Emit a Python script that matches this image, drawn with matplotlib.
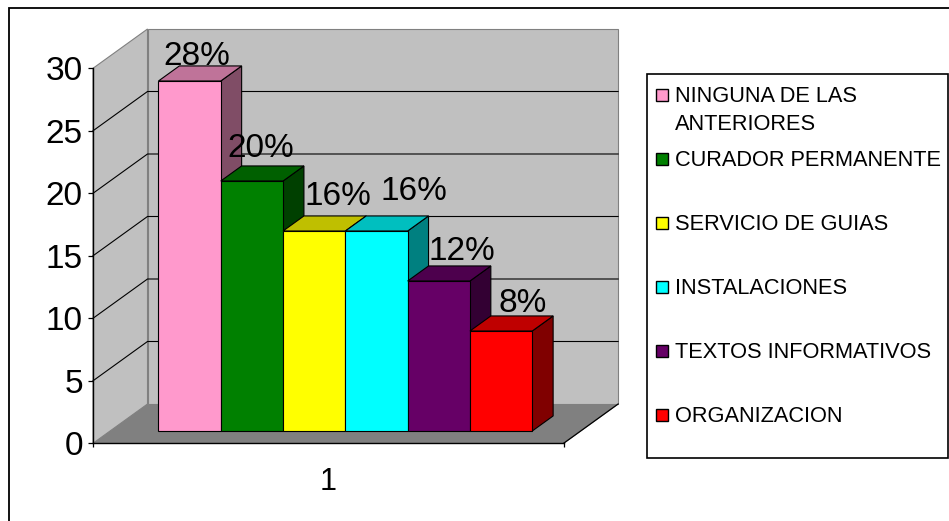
import matplotlib
matplotlib.use("Agg")
import matplotlib.pyplot as plt
from matplotlib.patches import Polygon, Rectangle

plt.rcParams['font.family'] = ['Liberation Sans', 'DejaVu Sans']

# ---- data -------------------------------------------------------------
categories = ["NINGUNA DE LAS\nANTERIORES", "CURADOR PERMANENTE",
              "SERVICIO DE GUIAS", "INSTALACIONES",
              "TEXTOS INFORMATIVOS", "ORGANIZACION"]
values = [28, 20, 16, 16, 12, 8]
value_labels = ["28%", "20%", "16%", "16%", "12%", "8%"]
y_ticks = [0, 5, 10, 15, 20, 25, 30]
x_category = "1"

# ---- styles -----------------------------------------------------------
front_colors = ["#FF99CC", "#008000", "#FFFF00", "#00FFFF", "#660066", "#FF0000"]


def shade(hex_color, k):
    r, g, b = (int(hex_color[i:i + 2], 16) for i in (1, 3, 5))
    return (r * k / 255, g * k / 255, b * k / 255)


W, H = 949, 521
fig = plt.figure(figsize=(W / 100, H / 100), dpi=100)

# front plane of the 3-D box (pixel layout of the plot area)
left_px, right_px, y0_px, y30_px = 93.0, 563.6, 443.3, 68.3
ax = fig.add_axes([left_px / W, (H - y0_px) / H,
                   (right_px - left_px) / W, (y0_px - y30_px) / H])
ax.set_xlim(0.5, 1.5)
ax.set_ylim(0, 30)
ax.patch.set_visible(False)

# oblique depth offset, converted to data units
DX_PX, DY_PX = 54.5, 39.3
ddx = DX_PX / (right_px - left_px)
ddy = DY_PX / (y0_px - y30_px) * 30


def P(x, v, d):
    """Point at category position x, value v and depth d (0 front, 1 back)."""
    return (x + d * ddx, v + d * ddy)


def face(pts, fc, ec, lw=0.8, z=1.0):
    ax.add_patch(Polygon(pts, closed=True, facecolor=fc, edgecolor=ec,
                         linewidth=lw, zorder=z, clip_on=False,
                         joinstyle='miter'))


xa, xb = 0.5, 1.5
vmax = y_ticks[-1]
wall = "#C0C0C0"
wall_edge = "#808080"

# floor, left wall, back wall
face([P(xa, 0, 0), P(xb, 0, 0), P(xb, 0, 1), P(xa, 0, 1)], "#808080", wall_edge, z=0.5)
face([P(xa, 0, 0), P(xa, vmax, 0), P(xa, vmax, 1), P(xa, 0, 1)], wall, wall_edge, z=0.5)
face([P(xa, 0, 1), P(xb, 0, 1), P(xb, vmax, 1), P(xa, vmax, 1)], wall, wall_edge, z=0.5)
# floor right edge
ax.plot(*zip(P(xb, 0, 0), P(xb, 0, 1)), color="black", lw=0.9, zorder=0.7,
        clip_on=False)

# gridlines on the walls
for t in y_ticks[1:-1]:
    ax.plot(*zip(P(xa, t, 0), P(xa, t, 1), P(xb, t, 1)), color="black",
            lw=0.8, zorder=0.6, clip_on=False)

# bars: side, top and front faces, drawn left to right
n = len(values)
w = 62.3 / (right_px - left_px)
df, db = 0.313, 0.696
label_nudge_px = [(-3, 1), (-2, 9), (13, 11), (27, 16), (13, 6), (11, 4)]
for i, (v, c) in enumerate(zip(values, front_colors)):
    x0 = 1 - n / 2 * w + i * w
    x1 = x0 + w
    z = 2 + i * 0.1
    face([P(x1, 0, df), P(x1, v, df), P(x1, v, db), P(x1, 0, db)],
         shade(c, 0.5), "black", z=z)
    face([P(x0, v, df), P(x1, v, df), P(x1, v, db), P(x0, v, db)],
         shade(c, 0.75), "black", z=z + 0.01)
    face([P(x0, 0, df), P(x1, 0, df), P(x1, v, df), P(x0, v, df)],
         c, "black", z=z + 0.02)
    xc = (x0 + x1) / 2
    anchor = (xc + (df + db) / 2 * ddx, v + db * ddy)
    ax.annotate(value_labels[i], xy=anchor,
                xytext=label_nudge_px[i], textcoords='offset pixels',
                ha='center', va='baseline', fontsize=24, zorder=5,
                annotation_clip=False)

# axes
for s in ("top", "right"):
    ax.spines[s].set_visible(False)
for s in ("left", "bottom"):
    ax.spines[s].set_linewidth(1.0)
    ax.spines[s].set_zorder(3)
ax.set_yticks(y_ticks)
ax.tick_params(axis='y', direction='out', length=3.3, width=0.9,
               labelsize=24, pad=4)
ax.set_xticks([xa, xb])
ax.set_xticklabels([])
ax.tick_params(axis='x', direction='out', length=3.0, width=0.9)
ax.annotate(x_category, xy=(1, 0), xytext=(0, -46.7),
            textcoords='offset pixels', ha='center', va='baseline',
            fontsize=22, annotation_clip=False)

# overlay in pixel space for the chart frame and the legend
ov = fig.add_axes([0, 0, 1, 1], zorder=10)
ov.set_xlim(0, W)
ov.set_ylim(H, 0)
ov.axis('off')
ov.plot([9.3, 9.3, W + 2], [H + 2, 8, 8], color="black", lw=1.3,
        solid_joinstyle='miter')
ov.add_patch(Rectangle((646.7, 74), 948.3 - 646.7, 458.3 - 74,
                       facecolor="white", edgecolor="black", lw=1.2))
for k, (name, c) in enumerate(zip(categories, front_colors)):
    base = 102 + 64 * k
    ov.add_patch(Rectangle((656, base - 13), 12.5, 12, facecolor=c,
                           edgecolor="black", lw=1.0))
    for j, line in enumerate(name.split("\n")):
        ov.text(675, base + j * 28.3, line, ha='left', va='baseline',
                fontsize=15.7)

fig.savefig("out.png", dpi=100)
